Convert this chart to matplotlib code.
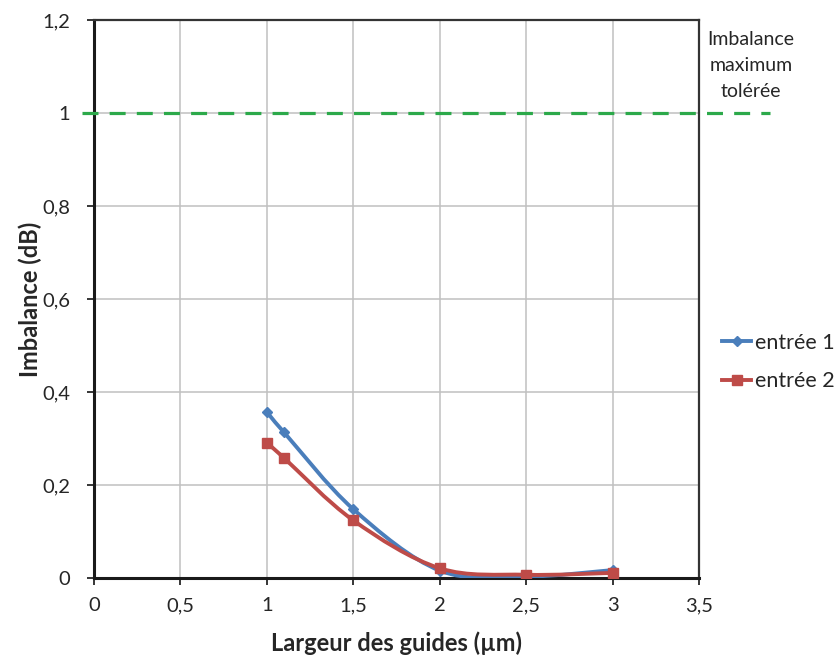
import numpy as np
import matplotlib.pyplot as plt
from matplotlib.path import Path
from matplotlib.patches import PathPatch
from matplotlib.lines import Line2D

plt.rcParams['font.family'] = ['Lato', 'DejaVu Sans']

# data
largeur = [1.0, 1.1, 1.5, 2.0, 2.5, 3.0]
entree_1 = [0.357, 0.313, 0.148, 0.016, 0.003, 0.017]
entree_2 = [0.291, 0.258, 0.124, 0.021, 0.007, 0.011]
seuil = 1.0

x_ticks = [0, 0.5, 1, 1.5, 2, 2.5, 3, 3.5]
y_ticks = [0, 0.2, 0.4, 0.6, 0.8, 1.0, 1.2]

BLUE = '#4A7EBB'
RED = '#BE4B48'
GREEN = '#2CA94A'
TXT = '#262626'


def smooth_path(xs, ys):
    """Excel-like smoothed line: cubic Bezier segments through the points."""
    pts = np.column_stack((xs, ys))
    n = len(pts)
    verts = [pts[0]]
    codes = [Path.MOVETO]
    for i in range(n - 1):
        p0 = pts[i - 1] if i > 0 else pts[i]
        p1 = pts[i]
        p2 = pts[i + 1]
        p3 = pts[i + 2] if i + 2 < n else pts[i + 1]
        c1 = p1 + (p2 - p0) / 6.
        c2 = p2 - (p3 - p1) / 6.
        verts += [c1, c2, p2]
        codes += [Path.CURVE4] * 3
    return Path(verts, codes)


def fmt(v):
    return ('%g' % v).replace('.', ',')


fig = plt.figure(figsize=(8.37, 6.56), dpi=100)
ax = fig.add_axes([94 / 837, 1 - 578 / 656, (699 - 94) / 837, (578 - 20) / 656])

for xs, ys, col, mk, ms in [(largeur, entree_1, BLUE, 'D', 5.5),
                            (largeur, entree_2, RED, 's', 7.5)]:
    patch = PathPatch(smooth_path(xs, ys), facecolor='none', edgecolor=col,
                      lw=2.8, zorder=3, capstyle='round', joinstyle='round')
    ax.add_patch(patch)
    ax.plot(xs, ys, ls='none', marker=mk, ms=ms, color=col, zorder=4)

ax.set_xlim(0, 3.5)
ax.set_ylim(0, 1.2)
ax.set_xticks(x_ticks)
ax.set_yticks(y_ticks)
ax.set_xticklabels([fmt(v) for v in x_ticks], fontsize=14.5, color=TXT)
ax.set_yticklabels([fmt(v) for v in y_ticks], fontsize=14.5, color=TXT)
ax.tick_params(axis='x', direction='out', length=5, width=1.3, color=TXT, pad=9)
ax.tick_params(axis='y', direction='out', length=5, width=1.3, color=TXT, pad=12)
ax.grid(True, color='#C0C0C0', lw=1.1)
ax.set_axisbelow(True)

for side in ['left', 'bottom']:
    ax.spines[side].set_linewidth(2.2)
    ax.spines[side].set_color('#1a1a1a')
for side in ['top', 'right']:
    ax.spines[side].set_linewidth(1.6)
    ax.spines[side].set_color('#333333')

# tolerance line, running past the plot area like in the reference
ax.plot([-0.07, 3.91], [seuil, seuil], color=GREEN, lw=2.3, ls=(0, (5, 3.5)),
        clip_on=False, zorder=5)
ax.text(3.8, 1.103, 'Imbalance\nmaximum\ntolérée', ha='center', va='center',
        fontsize=14, color=TXT, linespacing=1.65)

ax.set_xlabel('Largeur des guides (µm)', fontsize=17, fontweight='bold',
              color=TXT, labelpad=12)
ax.set_ylabel('Imbalance (dB)', fontsize=17, fontweight='bold', color=TXT)
ax.yaxis.set_label_coords(-52 / 605, 0.5)

handles = [Line2D([], [], color=BLUE, lw=2.8, marker='D', ms=5.5),
           Line2D([], [], color=RED, lw=2.8, marker='s', ms=7.5)]
fig.legend(handles, ['entrée 1', 'entrée 2'], loc='center left',
           bbox_to_anchor=(722 / 837, 1 - 362 / 656), frameon=False,
           borderpad=0, borderaxespad=0,
           fontsize=15.5, handlelength=1.35, handletextpad=0.2,
           labelspacing=0.85, labelcolor=TXT)

plt.savefig('out.png', dpi=100)
